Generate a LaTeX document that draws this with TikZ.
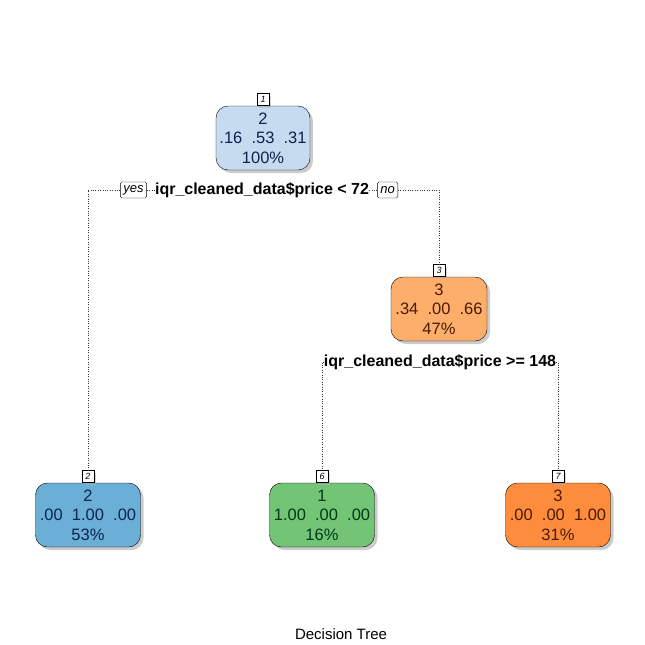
\documentclass[tikz,border=0pt]{standalone}
\usepackage{fontspec}
\setmainfont{Liberation Sans}
\usetikzlibrary{positioning,shadows}

\definecolor{blueA}{HTML}{C6DBEF}
\definecolor{blueB}{HTML}{6BAED6}
\definecolor{orangeA}{HTML}{FDAE6B}
\definecolor{orangeB}{HTML}{FD8D3C}
\definecolor{greenB}{HTML}{74C476}
\definecolor{blueT}{HTML}{0A2550}
\definecolor{orangeT}{HTML}{4A1A04}
\definecolor{greenT}{HTML}{00381A}

\begin{document}
\begin{tikzpicture}[x=1pt,y=-1pt,
   box/.style={draw,rounded corners=12pt,minimum height=64pt,align=center,
     inner sep=0pt,font=\fontsize{16.5}{19.5}\selectfont,
     drop shadow={shadow xshift=3pt,shadow yshift=-3pt,fill=black!40}},
   tag/.style={draw,fill=white,minimum size=12pt,inner sep=0pt,
     font=\fontsize{9}{9}\itshape\selectfont,
     drop shadow={shadow xshift=2pt,shadow yshift=-2pt,fill=black!30}},
   ans/.style={draw,rounded corners=1.5pt,inner sep=3pt,minimum height=16pt,
     font=\fontsize{13}{13}\itshape\selectfont},
   split/.style={inner sep=0pt,font=\fontsize{16}{16}\bfseries\selectfont},
   link/.style={dash pattern=on 0.8pt off 1.6pt,line width=0.8pt,black!80}]
   \useasboundingbox (0,0) rectangle (645,645);
   % nodes
   \node[box,fill=blueA,text=blueT,minimum width=94pt] (n1) at (263,138) {2\\.16~~.53~~.31\\100\%};
   \node[box,fill=orangeA,text=orangeT,minimum width=96pt] (n3) at (439,309) {3\\.34~~.00~~.66\\47\%};
   \node[box,fill=blueB,text=blueT,minimum width=105pt] (n2) at (88,515) {2\\.00~~1.00~~.00\\53\%};
   \node[box,fill=greenB,text=greenT,minimum width=105pt] (n6) at (322,515) {1\\1.00~~.00~~.00\\16\%};
   \node[box,fill=orangeB,text=orangeT,minimum width=105pt] (n7) at (558,515) {3\\.00~~.00~~1.00\\31\%};
   % node numbers
   \node[tag,above=0pt of n1] (t1) {1};
   \node[tag,above=0pt of n3] (t3) {3};
   \node[tag,above=0pt of n2] (t2) {2};
   \node[tag,above=0pt of n6] (t6) {6};
   \node[tag,above=0pt of n7] (t7) {7};
   % splits
   \node[split] (s1) at (262,190) {iqr\_cleaned\_data\$price < 72};
   \node[ans,left=8pt of s1] (yes) {yes};
   \node[ans,right=8pt of s1] (no) {no};
   \node[split] (s3) at (440,362) {iqr\_cleaned\_data\$price >= 148};
   \draw[link] (yes) -| (t2);
   \draw[link] (no) -| (t3);
   \draw[link] (yes) -- (s1);
   \draw[link] (s1) -- (no);
   \draw[link] (s3.west) -| (t6);
   \draw[link] (s3.east) -| (t7);
   \node (title) at (341,634) {\fontsize{15}{15}\selectfont Decision Tree};
\end{tikzpicture}
\end{document}
